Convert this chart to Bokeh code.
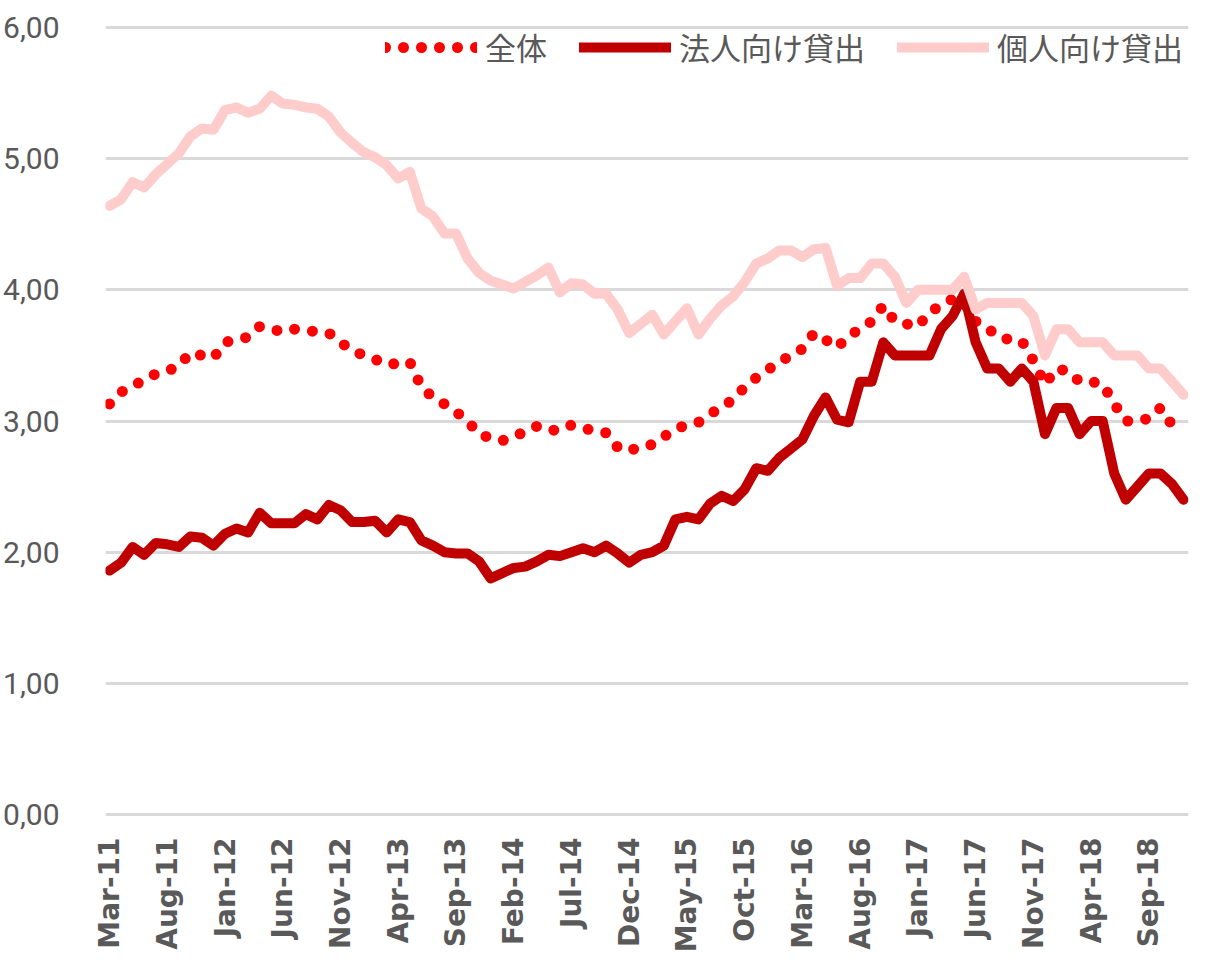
import math
from bokeh.plotting import figure
from bokeh.models import Range1d, FixedTicker, Legend, LegendItem, ColumnDataSource
from bokeh.embed import file_html
from bokeh.resources import INLINE

# ---- data (monthly, Mar-11 .. Dec-18) ----
overall = [3.13, 3.22, 3.27, 3.31, 3.36, 3.38, 3.42, 3.52, 3.50, 3.48,
           3.60, 3.62, 3.64, 3.72, 3.70, 3.68, 3.70, 3.69, 3.68, 3.67,
           3.60, 3.54, 3.50, 3.47, 3.43, 3.44, 3.45, 3.26, 3.18, 3.13,
           3.07, 3.00, 2.90, 2.87, 2.85, 2.88, 2.92, 2.96, 2.93, 2.93,
           2.97, 2.95, 2.92, 2.91, 2.80, 2.77, 2.81, 2.82, 2.88, 2.94,
           2.97, 2.99, 3.05, 3.11, 3.16, 3.26, 3.33, 3.39, 3.45, 3.50,
           3.55, 3.67, 3.62, 3.56, 3.65, 3.70, 3.76, 3.88, 3.76, 3.74,
           3.72, 3.83, 3.88, 3.93, 3.90, 3.76, 3.71, 3.64, 3.62, 3.61,
           3.46, 3.28, 3.40, 3.38, 3.30, 3.30, 3.28, 3.13, 3.00, 3.00,
           3.02, 3.10, 2.97, 2.93]
corporate = [1.86, 1.92, 2.04, 1.98, 2.07, 2.06, 2.04, 2.12, 2.11, 2.05,
             2.14, 2.18, 2.15, 2.30, 2.22, 2.22, 2.22, 2.29, 2.25, 2.36,
             2.32, 2.23, 2.23, 2.24, 2.15, 2.25, 2.23, 2.09, 2.05, 2.00,
             1.99, 1.99, 1.93, 1.80, 1.84, 1.88, 1.89, 1.93, 1.98, 1.97,
             2.00, 2.03, 2.00, 2.05, 1.99, 1.92, 1.98, 2.00, 2.05, 2.25,
             2.27, 2.25, 2.37, 2.43, 2.39, 2.48, 2.64, 2.62, 2.72, 2.79,
             2.86, 3.04, 3.18, 3.01, 2.99, 3.30, 3.30, 3.60, 3.50, 3.50,
             3.50, 3.50, 3.70, 3.80, 3.97, 3.60, 3.40, 3.40, 3.30, 3.40,
             3.30, 2.90, 3.10, 3.10, 2.90, 3.00, 3.00, 2.60, 2.40, 2.50,
             2.60, 2.60, 2.52, 2.40]
personal = [4.64, 4.69, 4.82, 4.78, 4.88, 4.96, 5.04, 5.17, 5.23, 5.22,
            5.37, 5.39, 5.35, 5.38, 5.48, 5.42, 5.41, 5.39, 5.38, 5.32,
            5.20, 5.12, 5.05, 5.01, 4.95, 4.85, 4.90, 4.62, 4.56, 4.43,
            4.43, 4.24, 4.13, 4.07, 4.04, 4.01, 4.06, 4.11, 4.17, 3.98,
            4.05, 4.04, 3.97, 3.97, 3.85, 3.67, 3.74, 3.81, 3.66, 3.76,
            3.86, 3.66, 3.78, 3.88, 3.95, 4.06, 4.20, 4.24, 4.30, 4.30,
            4.25, 4.31, 4.32, 4.03, 4.09, 4.09, 4.20, 4.20, 4.10, 3.90,
            4.00, 4.00, 4.00, 4.00, 4.10, 3.85, 3.90, 3.90, 3.90, 3.90,
            3.80, 3.50, 3.70, 3.70, 3.60, 3.60, 3.60, 3.50, 3.50, 3.50,
            3.40, 3.40, 3.30, 3.20]
tick_labels = ["Mar-11", "Aug-11", "Jan-12", "Jun-12", "Nov-12", "Apr-13",
               "Sep-13", "Feb-14", "Jul-14", "Dec-14", "May-15", "Oct-15",
               "Mar-16", "Aug-16", "Jan-17", "Jun-17", "Nov-17", "Apr-18",
               "Sep-18"]
y_ticks = [0, 1, 2, 3, 4, 5, 6]
y_tick_labels = ["0,00", "1,00", "2,00", "3,00", "4,00", "5,00", "6,00"]
series_names = ["全体", "法人向け貸出", "個人向け貸出"]

idx = list(range(len(overall)))
src = ColumnDataSource(dict(x=idx, overall=overall, corporate=corporate, personal=personal))

TEXT = "#595959"

p = figure(width=1192, height=955, output_backend="svg", toolbar_location=None,
           x_range=Range1d(-0.35, 93.43), y_range=Range1d(-0.015, 6.015),
           min_border_left=100, min_border_right=4, min_border_top=25,
           min_border_bottom=133)
p.outline_line_color = None
p.background_fill_color = "white"
p.border_fill_color = "white"

# grid
p.xgrid.grid_line_color = None
p.ygrid.grid_line_color = "#D9D9D9"
p.ygrid.grid_line_width = 3
p.yaxis.ticker = FixedTicker(ticks=y_ticks)
p.yaxis.major_label_overrides = {t: l for t, l in zip(y_ticks, y_tick_labels)}
p.yaxis.axis_line_color = None
p.yaxis.major_tick_line_color = None
p.yaxis.minor_tick_line_color = None
p.yaxis.major_label_text_font = "Roboto"
p.yaxis.major_label_text_font_size = "30px"
p.yaxis.major_label_text_color = TEXT
p.yaxis.major_label_standoff = 40

xt = [5 * k for k in range(len(tick_labels))]
p.xaxis.ticker = FixedTicker(ticks=xt)
p.xaxis.major_label_overrides = {t: l for t, l in zip(xt, tick_labels)}
p.xaxis.major_label_orientation = math.pi / 2
p.xaxis.axis_line_color = None
p.xaxis.major_tick_line_color = None
p.xaxis.minor_tick_line_color = None
p.xaxis.major_label_text_font = "DejaVu Sans"
p.xaxis.major_label_text_font_style = "bold"
p.xaxis.major_label_text_font_size = "28px"
p.xaxis.major_label_text_color = TEXT
p.xaxis.major_label_standoff = 15

r1 = p.line("x", "overall", source=src, line_color="#FF0000", line_width=11,
            line_dash="0 18", line_cap="round")
r2 = p.line("x", "corporate", source=src, line_color="#C00000", line_width=10,
            line_join="round", line_cap="round")
r3 = p.line("x", "personal", source=src, line_color="#FFCCCC", line_width=10,
            line_join="round", line_cap="round")

legend = Legend(items=[LegendItem(label=series_names[0], renderers=[r1]),
                       LegendItem(label=series_names[1], renderers=[r2]),
                       LegendItem(label=series_names[2], renderers=[r3])],
                orientation="horizontal", location=(280, 747))
legend.border_line_color = None
legend.background_fill_alpha = 0
legend.padding = 0
legend.margin = 0
legend.spacing = 32
legend.glyph_width = 92
legend.glyph_height = 40
legend.label_height = 40
legend.label_standoff = 8
legend.label_text_font = "Noto Sans CJK JP"
legend.label_text_font_size = "31px"
legend.label_text_color = TEXT
p.add_layout(legend, "center")

open("out.html", "w").write(file_html(p, INLINE))
